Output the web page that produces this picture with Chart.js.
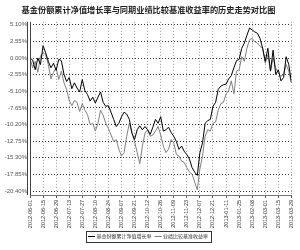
<!DOCTYPE html>
<html lang="zh">
<head>
    <meta charset="UTF-8">
    <title>历史走势对比图</title>
    <script src="https://cdn.jsdelivr.net/npm/chart.js"></script>
    <style>
        body {
            margin: 0;
            padding: 0;
            background-color: #ffffff;
        }

        .chart-box {
            width: 300px;
            height: 250px;
        }
    </style>
</head>

<body>
<div class="chart-box">
    <canvas id="trendChart" width="300" height="250"></canvas>
</div>

<script>
    // 坐标轴刻度
    const dateLabels = ['2012-06-01', '2012-06-15', '2012-06-29', '2012-07-13', '2012-07-27', '2012-08-10',
        '2012-08-24', '2012-09-07', '2012-09-21', '2012-10-12', '2012-10-26', '2012-11-09', '2012-11-23',
        '2012-12-07', '2012-12-21', '2013-01-11', '2013-01-25', '2013-02-08', '2013-03-01', '2013-03-15',
        '2013-03-29'];
    const yTicks = [5.10, 2.55, 0, -2.55, -5.10, -7.65, -10.20, -12.75, -15.30, -17.85, -20.40];

    // 基金份额累计净值增长率 (%)
    const fundValues = [0.0, -0.3, -1.8, 0.0, -1.0, 1.9, 0.8, -0.5, -1.5, -0.8,
        -1.9, -0.2, -0.4, -2.5, -3.6, -3.0, -4.7, -3.8, -4.6, -5.2,
        -3.3, -5.0, -5.6, -6.6, -6.0, -6.9, -6.0, -5.2, -6.8, -7.4,
        -7.3, -8.3, -9.4, -10.5, -10.0, -9.0, -8.3, -8.6, -9.4, -11.5,
        -12.5, -11.0, -10.4, -11.0, -10.5, -11.0, -11.7, -10.6, -9.4, -10.0,
        -9.0, -11.2, -11.0, -10.6, -11.4, -12.0, -12.8, -14.0, -13.5, -14.3,
        -14.8, -15.5, -16.8, -17.5, -18.0, -14.5, -13.0, -10.0, -9.6, -9.4,
        -7.4, -6.8, -4.8, -4.3, -4.1, -4.0, -3.2, -2.7, -1.5, -0.4,
        -0.2, 1.5, 2.3, 3.5, 4.6, 4.3, 4.0, 3.8, 3.0, 1.5,
        -0.5, 1.5, -2.0, 1.2, -2.5, -1.8, -3.5, -3.0, 0.2, -1.0,
        -3.7];

    // 业绩比较基准收益率 (%)
    const benchValues = [0.0, -1.5, -0.5, -2.2, 0.3, 0.8, 0.5, -1.0, -3.2, -2.2,
        -1.5, -3.3, -2.0, -3.8, -4.8, -6.5, -7.3, -6.5, -6.8, -8.2,
        -7.0, -8.0, -8.7, -10.2, -10.0, -11.2, -10.0, -8.0, -8.8, -10.0,
        -10.8, -11.8, -12.8, -12.5, -14.0, -15.0, -14.5, -12.0, -10.0, -11.5,
        -12.8, -14.5, -16.2, -13.5, -11.5, -11.0, -12.0, -11.8, -11.2, -10.5,
        -11.8, -13.5, -14.5, -14.0, -12.5, -13.0, -14.8, -15.0, -15.8, -16.0,
        -16.8, -17.5, -17.8, -19.0, -20.2, -17.0, -15.0, -12.0, -11.0, -11.2,
        -10.0, -9.8, -8.0, -7.0, -6.8, -5.5, -5.0, -3.5, -5.5, -2.0,
        -1.8, 0.2, -0.5, 1.5, 2.8, 3.0, 2.5, 2.3, 1.8, 1.5,
        -0.8, 0.5, -2.0, 0.0, -1.5, -2.3, -2.8, -2.5, -1.0, -2.0,
        -3.8];

    const pointsPerTick = (fundValues.length - 1) / (dateLabels.length - 1);

    // 图例外框 + 左侧双线 + 底线
    const frameDecor = {
        id: 'frameDecor',
        afterDraw(chart) {
            const ctx = chart.ctx;
            const area = chart.chartArea;
            const left = Math.round(area.left);
            ctx.save();
            ctx.strokeStyle = '#444';
            ctx.lineWidth = 1;
            ctx.beginPath();
            ctx.moveTo(left - 2.5, area.top);
            ctx.lineTo(left - 2.5, area.bottom);
            ctx.moveTo(left + 0.5, area.top);
            ctx.lineTo(left + 0.5, area.bottom);
            ctx.stroke();
            ctx.strokeStyle = '#777';
            ctx.beginPath();
            ctx.moveTo(area.left, Math.round(area.bottom) + 0.5);
            ctx.lineTo(area.right, Math.round(area.bottom) + 0.5);
            ctx.stroke();

            const boxes = chart.legend.legendHitBoxes;
            if (boxes && boxes.length) {
                const x0 = Math.min(...boxes.map(b => b.left)) - 3;
                const x1 = Math.max(...boxes.map(b => b.left + b.width)) + 3;
                const y0 = boxes[0].top - 3;
                const h = boxes[0].height + 6;
                ctx.strokeStyle = '#333';
                ctx.strokeRect(Math.round(x0) + 0.5, Math.round(y0) + 0.5, Math.round(x1 - x0), Math.round(h));
            }
            ctx.restore();
        }
    };

    const ctx = document.getElementById('trendChart').getContext('2d');
    new Chart(ctx, {
        type: 'line',
        data: {
            datasets: [{
                label: '基金份额累计净值增长率',
                data: fundValues.map((v, i) => ({x: i, y: v})),
                borderColor: '#000000',
                borderWidth: 1,
                pointRadius: 0,
                tension: 0
            }, {
                label: '业绩比较基准收益率',
                data: benchValues.map((v, i) => ({x: i, y: v})),
                borderColor: '#808080',
                borderWidth: 1,
                pointRadius: 0,
                tension: 0
            }]
        },
        options: {
            responsive: false,
            animation: false,
            layout: {
                padding: {top: 2, right: 3, bottom: 1, left: 0}
            },
            plugins: {
                title: {
                    display: true,
                    text: '基金份额累计净值增长率与同期业绩比较基准收益率的历史走势对比图',
                    color: '#222',
                    font: {family: '"Noto Sans CJK SC"', size: 8.2, weight: 'bold'},
                    padding: {top: 3, bottom: 7}
                },
                legend: {
                    position: 'bottom',
                    labels: {
                        usePointStyle: true,
                        pointStyle: 'line',
                        boxWidth: 10,
                        padding: 4,
                        color: '#333',
                        font: {family: '"Noto Sans CJK SC"', size: 5}
                    }
                },
                tooltip: {enabled: false}
            },
            scales: {
                x: {
                    type: 'linear',
                    min: 0,
                    max: fundValues.length - 1,
                    afterBuildTicks: axis => {
                        axis.ticks = dateLabels.map((_, k) => ({value: k * pointsPerTick}));
                    },
                    afterFit: scale => {
                        scale.height = 35;
                    },
                    ticks: {
                        autoSkip: false,
                        minRotation: 90,
                        maxRotation: 90,
                        padding: 2,
                        color: '#333',
                        font: {family: 'Liberation Sans', size: 5.5},
                        callback: (value, index) => dateLabels[index]
                    },
                    grid: {
                        color: '#9a9a9a',
                        tickColor: '#555',
                        tickLength: 3,
                        tickBorderDash: [],
                        lineWidth: 1
                    },
                    border: {display: false, dash: [1, 2]}
                },
                y: {
                    min: -21.0,
                    max: 5.55,
                    afterBuildTicks: axis => {
                        axis.ticks = yTicks.map(v => ({value: v}));
                    },
                    afterFit: scale => {
                        scale.width = 30;
                    },
                    ticks: {
                        color: '#555',
                        padding: 3,
                        font: {family: 'Liberation Sans', size: 6},
                        callback: value => value.toFixed(2) + '%'
                    },
                    grid: {
                        color: '#333',
                        drawTicks: false
                    },
                    border: {display: false, dash: [1, 2]}
                }
            }
        },
        plugins: [frameDecor]
    });
</script>
</body>
</html>
